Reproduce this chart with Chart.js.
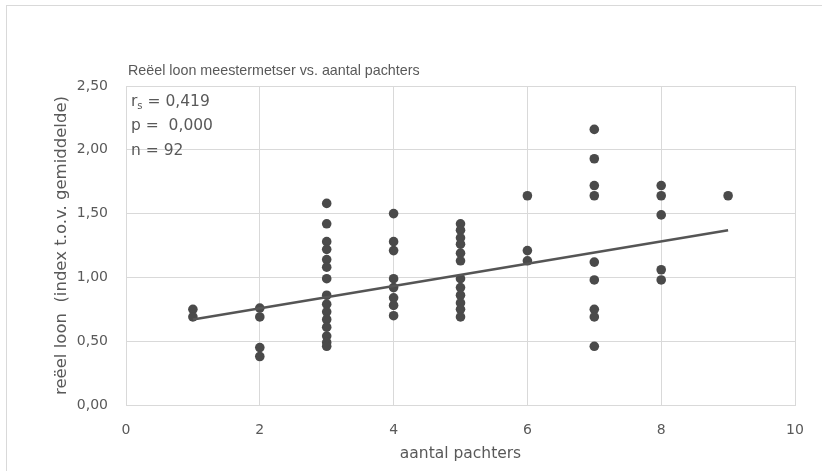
<!DOCTYPE html>
<html>
<head>
<meta charset="utf-8">
<script src="https://cdn.jsdelivr.net/npm/chart.js@4"></script>
<style>
  body { margin: 0; background: #fff; overflow: hidden; }
  #wrap { position: relative; width: 822px; height: 471px; overflow: hidden; }
  #frame { position: absolute; left: 6px; top: 5px; width: 840px; height: 490px; border: 1px solid #d9d9d9; }
  canvas { position: absolute; left: 0; top: 0; }
</style>
</head>
<body>
<div id="wrap">
  <div id="frame"></div>
  <canvas id="chart" width="822" height="471"></canvas>
</div>
<script>
// aantal pachters (x) en reëel loon (y), zichtbare punten
const pachters = [
    1, 1,
    2, 2, 2, 2,
    3, 3, 3, 3, 3, 3, 3, 3, 3, 3, 3, 3, 3, 3, 3,
    4, 4, 4, 4, 4, 4, 4, 4,
    5, 5, 5, 5, 5, 5, 5, 5, 5, 5, 5, 5,
    6, 6, 6,
    7, 7, 7, 7, 7, 7, 7, 7, 7,
    8, 8, 8, 8, 8,
    9
];
const loon = [
    0.75, 0.69,
    0.76, 0.69, 0.45, 0.38,
    1.58, 1.42, 1.28, 1.22, 1.14, 1.08, 0.99, 0.86, 0.79, 0.73, 0.67, 0.61, 0.54, 0.49, 0.46,
    1.50, 1.28, 1.21, 0.99, 0.92, 0.84, 0.78, 0.70,
    1.42, 1.37, 1.31, 1.26, 1.19, 1.13, 0.99, 0.92, 0.86, 0.80, 0.75, 0.69,
    1.64, 1.21, 1.13,
    2.16, 1.93, 1.72, 1.64, 1.12, 0.98, 0.75, 0.69, 0.46,
    1.72, 1.64, 1.49, 1.06, 0.98,
    1.64
];
// trendlijn (begin- en eindpunt)
const trendX = [1, 9];
const trendY = [0.67, 1.37];

const titleText = "Reëel loon meestermetser vs. aantal pachters";
const statLines = ["= 0,419", "p =  0,000", "n = 92"];

const textColor = "#595959";
const gridColor = "#d9d9d9";
const fontFamily = "'DejaVu Sans', sans-serif";
const titleFamily = "'Liberation Sans', Arial, sans-serif";

const comma = v => v.toFixed(2).replace(".", ",");

// titel en statistieken linksboven
const textPlugin = {
    id: "texts",
    afterDraw(chart) {
        const ctx = chart.ctx;
        const area = chart.chartArea;
        ctx.save();
        ctx.fillStyle = textColor;
        ctx.textBaseline = "alphabetic";
        ctx.textAlign = "left";
        ctx.font = "14.3px " + titleFamily;
        ctx.fillText(titleText, area.left + 2, area.top - 11);

        ctx.font = "15.5px " + fontFamily;
        const x0 = area.left + 5;
        ctx.fillText("r", x0, area.top + 20);
        const rw = ctx.measureText("r").width;
        ctx.font = "10px " + fontFamily;
        ctx.fillText("s", x0 + rw, area.top + 23);
        const sw = ctx.measureText("s").width;
        ctx.font = "15.5px " + fontFamily;
        ctx.fillText(" " + statLines[0], x0 + rw + sw, area.top + 20);
        ctx.fillText(statLines[1], x0, area.top + 44);
        ctx.fillText(statLines[2], x0, area.top + 69);
        ctx.restore();
    }
};

const ctx = document.getElementById("chart").getContext("2d");
new Chart(ctx, {
    data: {
        datasets: [
            {
                type: "scatter",
                data: pachters.map((x, i) => ({ x: x, y: loon[i] })),
                backgroundColor: "#4a4a4a",
                borderWidth: 0,
                pointRadius: 4.8,
                order: 2
            },
            {
                type: "line",
                data: trendX.map((x, i) => ({ x: x, y: trendY[i] })),
                borderColor: "#555555",
                borderWidth: 2.5,
                pointRadius: 0,
                fill: false,
                order: 1
            }
        ]
    },
    options: {
        responsive: false,
        animation: false,
        layout: { padding: { left: 52, right: 27, top: 86, bottom: 8 } },
        plugins: {
            legend: { display: false },
            tooltip: { enabled: false }
        },
        scales: {
            x: {
                type: "linear",
                min: 0,
                max: 10,
                ticks: {
                    stepSize: 2,
                    padding: 17,
                    color: textColor,
                    font: { family: fontFamily, size: 14 }
                },
                grid: { color: gridColor, drawTicks: false },
                border: { color: gridColor },
                title: {
                    display: true,
                    text: "aantal pachters",
                    color: textColor,
                    font: { family: fontFamily, size: 15.5 },
                    padding: { top: 4, bottom: 0 }
                },
                afterFit(scale) { scale.height = 58; }
            },
            y: {
                min: 0,
                max: 2.5,
                ticks: {
                    stepSize: 0.5,
                    padding: 18,
                    color: textColor,
                    font: { family: fontFamily, size: 14 },
                    callback: v => comma(v)
                },
                grid: { color: gridColor, drawTicks: false },
                border: { color: gridColor },
                title: {
                    display: true,
                    text: "reëel loon  (index t.o.v. gemiddelde)",
                    color: textColor,
                    font: { family: fontFamily, size: 16.5 },
                    padding: { top: 0, bottom: 0 }
                },
                afterFit(scale) { scale.width = 74; }
            },
            x2: {
                type: "linear",
                position: "top",
                min: 0, max: 10,
                ticks: { display: false },
                grid: { display: false, drawTicks: false },
                border: { color: gridColor }
            },
            y2: {
                position: "right",
                min: 0, max: 2.5,
                ticks: { display: false },
                grid: { display: false, drawTicks: false },
                border: { color: gridColor }
            }
        }
    },
    plugins: [textPlugin]
});
</script>
</body>
</html>
